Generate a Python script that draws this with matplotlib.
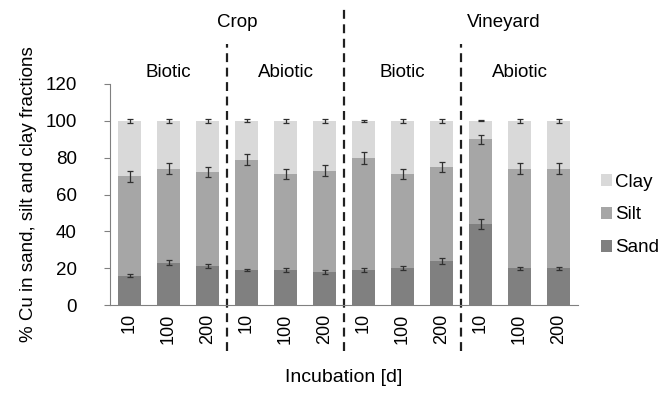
import numpy as np
import matplotlib.pyplot as plt

plt.rcParams['font.family'] = ['Liberation Sans', 'DejaVu Sans']

# incubation days for each bar, group by group
days = ['10', '100', '200'] * 4
groups = ['Biotic', 'Abiotic', 'Biotic', 'Abiotic']
sites = ['Crop', 'Vineyard']

# % Cu in each fraction
sand = [16, 23, 21, 19, 19, 18, 19, 20, 24, 44, 20, 20]
silt = [54, 51, 51, 60, 52, 55, 61, 51, 51, 46, 54, 54]
clay = [30, 26, 28, 21, 29, 27, 20, 29, 25, 10, 26, 26]

sand_err = [1.0, 1.5, 1.0, 0.8, 1.2, 1.1, 1.0, 1.2, 1.5, 2.7, 0.9, 0.9]
silt_err = [3.0, 2.9, 2.7, 2.9, 2.7, 2.9, 3.2, 2.7, 2.7, 2.5, 2.9, 3.0]
clay_err = [1.1, 1.2, 1.2, 0.8, 1.2, 1.2, 0.7, 1.2, 1.2, 0.3, 1.2, 1.2]

c_sand = '#808080'
c_silt = '#a6a6a6'
c_clay = '#d9d9d9'

fig = plt.figure(figsize=(6.62, 3.93), dpi=100)
ax = fig.add_axes([110 / 662, 1 - 305 / 393, 468 / 662, 221 / 393])

x = np.arange(len(days))
sand = np.array(sand)
silt = np.array(silt)
clay = np.array(clay)
w = 0.57
ek = dict(ecolor='#303030', elinewidth=0.9, capsize=2.5, capthick=0.9)

ax.bar(x, sand, w, color=c_sand, label='Sand')
ax.bar(x, silt, w, bottom=sand, color=c_silt, label='Silt')
ax.bar(x, clay, w, bottom=sand + silt, color=c_clay, label='Clay')
ax.errorbar(x, sand, yerr=sand_err, fmt='none', **ek)
ax.errorbar(x, sand + silt, yerr=silt_err, fmt='none', **ek)
ax.errorbar(x, sand + silt + clay, yerr=clay_err, fmt='none', **ek)

ax.set_xlim(-0.5, len(days) - 0.5)
ax.set_ylim(0, 120)
ax.set_yticks(range(0, 121, 20))
ax.set_xticks(x)
ax.set_xticklabels(days, rotation=90, fontsize=13)
ax.tick_params(axis='x', length=0, pad=6)
ax.tick_params(axis='y', labelsize=13.5, length=4, color='#808080', pad=20)
for s in ['top', 'right']:
    ax.spines[s].set_visible(False)
for s in ['left', 'bottom']:
    ax.spines[s].set_color('#808080')

ax.set_ylabel('% Cu in sand, silt and clay fractions', fontsize=13.5, labelpad=6)
ax.set_xlabel('Incubation [d]', fontsize=14, labelpad=18)

# dashed separators
trans = ax.get_xaxis_transform()
for xs, top in [(2.5, 1.18), (5.5, 1.35), (8.5, 1.18)]:
    ax.plot([xs, xs], [-0.21, top], transform=trans, color='#202020',
            lw=1.6, ls=(0, (4, 2.5)), clip_on=False)

for i, g in enumerate(groups):
    ax.text(3 * i + 1, 1.015, g, transform=trans, ha='center', va='bottom', fontsize=13.5)
ax.text(2.75, 1.24, sites[0], transform=trans, ha='center', va='bottom', fontsize=13.5)
ax.text(9.6, 1.24, sites[1], transform=trans, ha='center', va='bottom', fontsize=13.5)

h, l = ax.get_legend_handles_labels()
fig.legend(h[::-1], l[::-1], loc='center left', bbox_to_anchor=(584 / 662, 1 - 215 / 393),
           frameon=False, fontsize=13.5, handlelength=0.6, handleheight=0.6,
           handletextpad=0.15, labelspacing=0.85)

fig.savefig('out.png', dpi=100)
